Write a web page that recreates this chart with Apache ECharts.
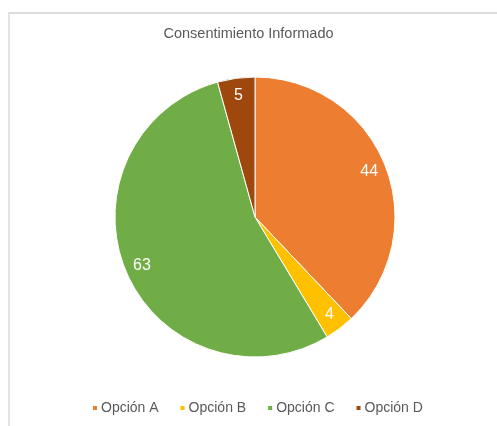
<!DOCTYPE html>
<html>
<head>
<meta charset="utf-8">
<script src="https://cdn.jsdelivr.net/npm/echarts@6/dist/echarts.min.js"></script>
<style>
  html, body { margin: 0; padding: 0; background: #fff; }
  #frame { position: absolute; left: 8px; top: 12px; width: 600px; height: 500px;
           border-top: 2px solid #dcdcdc; border-left: 2px solid #e4e4e4; }
  #chart { position: absolute; left: 0; top: 0; width: 497px; height: 426px; }
</style>
</head>
<body>
<div id="frame"></div>
<div id="chart"></div>
<script>
  // datos de la gráfica
  const categories = ['Opción A', 'Opción B', 'Opción C', 'Opción D'];
  const values = [44, 4, 63, 5];
  const colors = ['#ED7D31', '#FFC000', '#70AD47', '#9E480E'];

  const chart = echarts.init(document.getElementById('chart'));
  const pieData = categories.map((c, i) => ({ name: c, value: values[i], itemStyle: { color: colors[i] } }));

  chart.setOption({
    animation: false,
    title: {
      text: 'Consentimiento Informado',
      left: 'center', top: 21,
      textStyle: { fontFamily: 'Liberation Sans', fontSize: 14.5, fontWeight: 'normal', color: '#595959' }
    },
    legend: {
      data: categories,
      left: 86, top: 396,
      icon: 'rect', itemWidth: 6, itemHeight: 6, itemGap: 20,
      textStyle: { fontFamily: 'Liberation Sans', fontSize: 14, color: '#595959', padding: [0, 0, 0, -2] }
    },
    series: [
      {
        type: 'pie',
        center: [255, 217],
        radius: [0, 140],
        startAngle: 90,
        clockwise: true,
        label: { show: false },
        labelLine: { show: false },
        itemStyle: { borderColor: '#fff', borderWidth: 1 },
        data: pieData
      },
      {
        // serie transparente solo para colocar las etiquetas cerca del borde
        type: 'pie',
        silent: true,
        center: [255, 217],
        radius: [100, 140],
        startAngle: 90,
        clockwise: true,
        itemStyle: { color: 'transparent', borderWidth: 0 },
        label: {
          show: true, position: 'inside', formatter: '{c}',
          fontFamily: 'Liberation Sans', fontSize: 16, color: '#fff'
        },
        labelLine: { show: false },
        data: categories.map((c, i) => ({ name: c, value: values[i] }))
      }
    ]
  });
</script>
</body>
</html>
